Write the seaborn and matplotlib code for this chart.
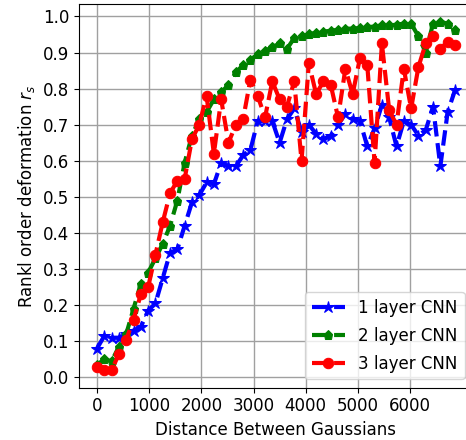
import numpy as np
import pandas as pd
import matplotlib
matplotlib.use('Agg')
import matplotlib.pyplot as plt
import seaborn as sns

# Distance between the two gaussians (step 140)
distance = np.arange(0, 7000, 140)

one_layer = [0.08, 0.115, 0.11, 0.11, 0.12, 0.13, 0.14, 0.185, 0.205, 0.275,
             0.345, 0.355, 0.42, 0.485, 0.505, 0.54, 0.535, 0.595, 0.585, 0.585,
             0.615, 0.63, 0.71, 0.71, 0.71, 0.65, 0.715, 0.745, 0.68, 0.70,
             0.675, 0.66, 0.67, 0.70, 0.73, 0.715, 0.71, 0.64, 0.69, 0.755,
             0.72, 0.64, 0.71, 0.70, 0.67, 0.685, 0.75, 0.585, 0.735, 0.795]

two_layer = [0.035, 0.05, 0.045, 0.085, 0.12, 0.19, 0.26, 0.29, 0.33, 0.37,
             0.42, 0.49, 0.595, 0.67, 0.715, 0.735, 0.77, 0.79, 0.81, 0.845,
             0.865, 0.88, 0.895, 0.905, 0.915, 0.925, 0.91, 0.94, 0.945, 0.95,
             0.955, 0.958, 0.96, 0.963, 0.966, 0.966, 0.968, 0.97, 0.972, 0.975,
             0.975, 0.977, 0.98, 0.98, 0.945, 0.90, 0.98, 0.985, 0.98, 0.962]

three_layer = [0.03, 0.02, 0.02, 0.065, 0.105, 0.16, 0.23, 0.25, 0.34, 0.43,
               0.51, 0.545, 0.55, 0.66, 0.70, 0.78, 0.62, 0.77, 0.65, 0.70,
               0.715, 0.825, 0.78, 0.72, 0.82, 0.77, 0.75, 0.82, 0.60, 0.87,
               0.785, 0.82, 0.81, 0.72, 0.855, 0.785, 0.885, 0.865, 0.595, 0.925,
               0.74, 0.70, 0.855, 0.745, 0.86, 0.925, 0.945, 0.91, 0.93, 0.92]

labels = ['1 layer CNN', '2 layer CNN', '3 layer CNN']
colors = ['b', 'g', 'r']
markers = ['*', 'p', 'o']
msizes = [9, 6.5, 7.5]


def plot_rs():

    plt.style.use('default')
    plt.rcParams['font.size'] = 12

    fig = plt.figure(figsize=(4.66, 4.4), dpi=100)
    ax = fig.add_axes([0.1697, 0.119, 0.845, 0.871])

    series = [one_layer, two_layer, three_layer]
    for vals, lab, c, m, ms in zip(series, labels, colors, markers, msizes):
        df = pd.DataFrame({'distance': distance, 'rs': vals})
        sns.lineplot(data=df, x='distance', y='rs', ax=ax, color=c, marker=m,
                     linestyle='--', linewidth=3, markersize=ms,
                     markeredgecolor=c, estimator=None, label=lab)

    ax.set_xticks([0, 1000, 2000, 3000, 4000, 5000, 6000])
    ax.set_yticks(np.arange(0, 1.01, 0.1))
    ax.grid(True, color='#a0a0a0', linewidth=1.0)
    ax.set_axisbelow(True)
    ax.set_xlabel('Distance Between Gaussians')
    ax.set_ylabel(r'Rankl order deformation $r_s$')
    ax.legend(loc='lower right', numpoints=1, fontsize=12, labelspacing=0.6)

    plt.savefig('out.png', dpi=100)


if __name__ == '__main__':
    plot_rs()
